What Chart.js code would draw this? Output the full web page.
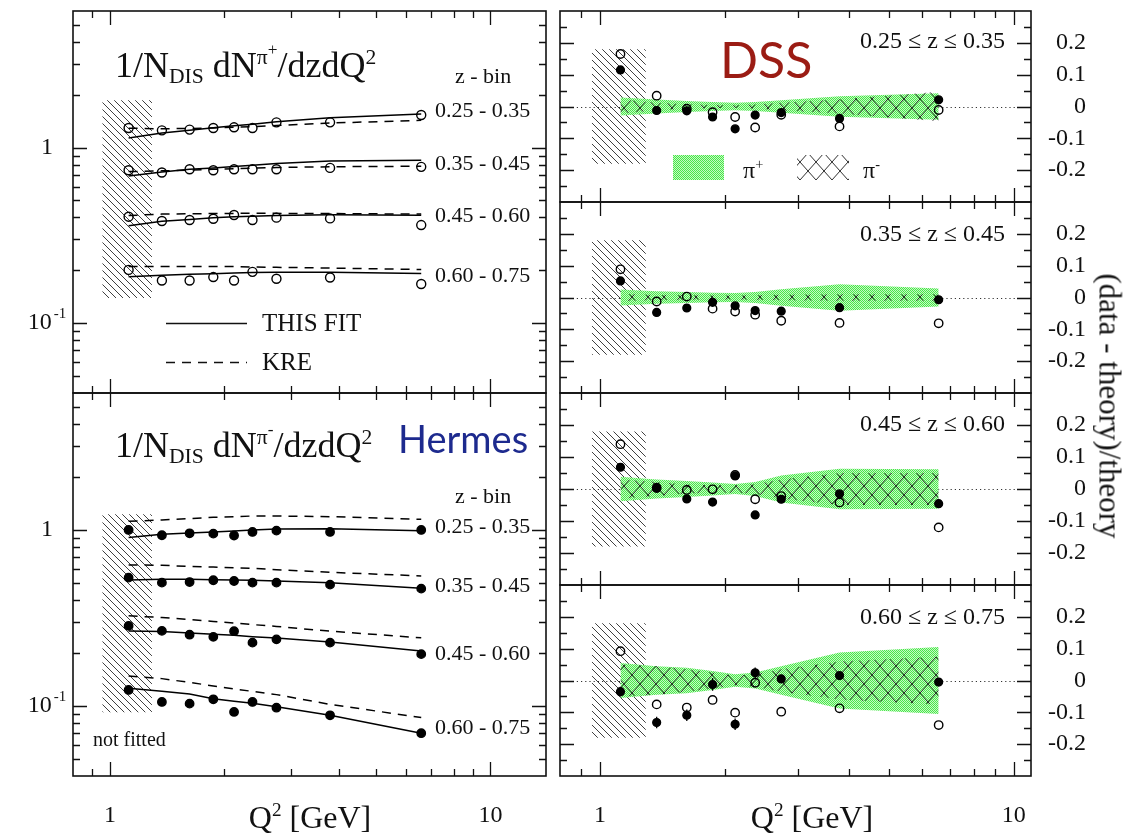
<!DOCTYPE html>
<html>
<head>
<meta charset="utf-8">
<script src="https://cdn.jsdelivr.net/npm/chart.js@4.4.1/dist/chart.umd.min.js"></script>
<style>
html,body{margin:0;padding:0;background:#fff;}
#wrap{position:relative;width:1123px;height:838px;overflow:hidden;font-family:"Liberation Serif",serif;color:#111;}
#wrap canvas{position:absolute;left:0;top:0;}
.t{position:absolute;white-space:nowrap;line-height:1;}
.sub{font-size:0.6em;position:relative;top:0.28em;}
.sup{font-size:0.6em;position:relative;top:-0.62em;}
.sup2{font-size:0.8em;position:relative;top:-0.5em;}
.sans{font-family:Lato,"Open Sans",sans-serif;}
</style>
</head>
<body>
<div id="wrap">
<canvas id="cLT" width="1123" height="838"></canvas>
<canvas id="cLB" width="1123" height="838"></canvas>
<canvas id="cR1" width="1123" height="838"></canvas>
<canvas id="cR2" width="1123" height="838"></canvas>
<canvas id="cR3" width="1123" height="838"></canvas>
<canvas id="cR4" width="1123" height="838"></canvas>

<!-- left top annotations -->
<div class="t" style="left:115px;top:47px;font-size:36px;">1/N<span class="sub">DIS</span> dN<span class="sup">π<span class="sup2">+</span></span>/dzdQ<span class="sup">2</span></div>
<div class="t" style="left:455px;top:65px;font-size:22px;">z - bin</div>
<div class="t" id="zl0" style="left:435px;top:99px;font-size:22px;"></div>
<div class="t" id="zl1" style="left:435px;top:152px;font-size:22px;"></div>
<div class="t" id="zl2" style="left:435px;top:204px;font-size:22px;"></div>
<div class="t" id="zl3" style="left:435px;top:264px;font-size:22px;"></div>
<div class="t" style="left:262px;top:310px;font-size:25px;">THIS FIT</div>
<div class="t" style="left:262px;top:349px;font-size:25px;">KRE</div>

<!-- left bottom annotations -->
<div class="t" style="left:115px;top:427px;font-size:36px;">1/N<span class="sub">DIS</span> dN<span class="sup">π<span class="sup2">-</span></span>/dzdQ<span class="sup">2</span></div>
<div class="t sans" style="left:398px;top:419px;font-size:38px;color:#1d2a8e;">Hermes</div>
<div class="t" style="left:455px;top:485px;font-size:22px;">z - bin</div>
<div class="t" id="zm0" style="left:435px;top:515px;font-size:22px;"></div>
<div class="t" id="zm1" style="left:435px;top:574px;font-size:22px;"></div>
<div class="t" id="zm2" style="left:435px;top:642px;font-size:22px;"></div>
<div class="t" id="zm3" style="left:435px;top:716px;font-size:22px;"></div>
<div class="t" style="left:93px;top:729px;font-size:20px;">not fitted</div>

<!-- right annotations -->
<div class="t sans" style="left:720px;top:34px;font-size:50px;color:#9b1c14;">DSS</div>
<div class="t" id="zr0" style="right:118px;top:28px;font-size:24px;"></div>
<div class="t" id="zr1" style="right:118px;top:221px;font-size:24px;"></div>
<div class="t" id="zr2" style="right:118px;top:411px;font-size:24px;"></div>
<div class="t" id="zr3" style="right:118px;top:604px;font-size:24px;"></div>
<div class="t" style="left:743px;top:158px;font-size:24px;">π<span class="sup">+</span></div>
<div class="t" style="left:863px;top:158px;font-size:24px;">π<span class="sup">-</span></div>
<div class="t" style="left:1110px;top:406px;font-size:31px;transform:translate(-50%,-50%) rotate(90deg);">(data - theory)/theory</div>

<!-- x axis titles -->
<div class="t" style="left:310px;top:801px;font-size:32px;transform:translateX(-50%);">Q<span class="sup">2</span> [GeV]</div>
<div class="t" style="left:812px;top:801px;font-size:32px;transform:translateX(-50%);">Q<span class="sup">2</span> [GeV]</div>
</div>

<script>
// ---------------- DATA ----------------
const Q2 = [1.12, 1.37, 1.62, 1.87, 2.12, 2.37, 2.74, 3.79, 6.58];
const zBinLabels = ['0.25 - 0.35', '0.35 - 0.45', '0.45 - 0.60', '0.60 - 0.75'];
const zRangeLabels = ['0.25 ≤ z ≤ 0.35', '0.35 ≤ z ≤ 0.45', '0.45 ≤ z ≤ 0.60', '0.60 ≤ z ≤ 0.75'];

// pi+ multiplicities (open circles), this fit (solid), KRE (dashed)
const piPlusZ1 = [1.293, 1.254, 1.266, 1.293, 1.305, 1.293, 1.393, 1.393, 1.533];
const piPlusZ2 = [0.743, 0.721, 0.753, 0.743, 0.753, 0.753, 0.753, 0.766, 0.777];
const piPlusZ3 = [0.404, 0.382, 0.387, 0.393, 0.413, 0.387, 0.399, 0.395, 0.362];
const piPlusZ4 = [0.201, 0.175, 0.175, 0.183, 0.175, 0.196, 0.179, 0.182, 0.167];
const fitPlusZ1 = [1.135, 1.211, 1.254, 1.299, 1.334, 1.357, 1.405, 1.480, 1.553];
const fitPlusZ2 = [0.690, 0.727, 0.753, 0.766, 0.780, 0.794, 0.811, 0.840, 0.847];
const fitPlusZ3 = [0.359, 0.380, 0.390, 0.399, 0.404, 0.407, 0.411, 0.414, 0.412];
const fitPlusZ4 = [0.184, 0.1875, 0.190, 0.191, 0.193, 0.194, 0.195, 0.195, 0.192];
const krePlusZ1 = [1.29, 1.28, 1.285, 1.295, 1.305, 1.315, 1.335, 1.38, 1.43];
const krePlusZ2 = [0.73, 0.737, 0.745, 0.752, 0.758, 0.763, 0.77, 0.778, 0.783];
const krePlusZ3 = [0.41, 0.418, 0.42, 0.421, 0.422, 0.422, 0.422, 0.421, 0.418];
const krePlusZ4 = [0.21, 0.21, 0.21, 0.21, 0.21, 0.209, 0.208, 0.206, 0.202];

// pi- multiplicities (filled circles), this fit, KRE
const piMinusZ1 = [1.0, 0.933, 0.957, 0.953, 0.930, 0.974, 0.991, 0.974, 1.0];
const piMinusZ2 = [0.536, 0.502, 0.506, 0.518, 0.513, 0.502, 0.502, 0.489, 0.464];
const piMinusZ3 = [0.285, 0.267, 0.254, 0.247, 0.266, 0.229, 0.239, 0.229, 0.197];
const piMinusZ4 = [0.1233, 0.1054, 0.1031, 0.1091, 0.0925, 0.1054, 0.0978, 0.0885, 0.0700];
const fitMinusZ1 = [0.905, 0.945, 0.961, 0.974, 0.987, 1.0, 1.013, 1.017, 0.991];
const fitMinusZ2 = [0.520, 0.5245, 0.5245, 0.522, 0.520, 0.518, 0.513, 0.502, 0.466];
const fitMinusZ3 = [0.267, 0.2645, 0.260, 0.2554, 0.252, 0.2476, 0.2433, 0.2310, 0.2053];
const fitMinusZ4 = [0.126, 0.1214, 0.117, 0.110, 0.1063, 0.1036, 0.0991, 0.0885, 0.0700];
const kreMinusZ1 = [1.12, 1.14, 1.16, 1.18, 1.19, 1.20, 1.20, 1.19, 1.15];
const kreMinusZ2 = [0.633, 0.63, 0.62, 0.615, 0.61, 0.605, 0.595, 0.575, 0.548];
const kreMinusZ3 = [0.325, 0.318, 0.31, 0.302, 0.296, 0.29, 0.283, 0.266, 0.244];
const kreMinusZ4 = [0.148, 0.143, 0.136, 0.130, 0.125, 0.121, 0.116, 0.102, 0.086];

// (data - theory)/theory, DSS
const resPlusZ1 = [0.165, 0.034, -0.007, -0.018, -0.033, -0.066, -0.026, -0.0625, -0.011];
const resMinusZ1 = [0.115, -0.0125, -0.0135, -0.033, -0.070, -0.027, -0.019, -0.0375, 0.021];
const resPlusZ2 = [0.0885, -0.0125, 0.003, -0.035, -0.044, -0.054, -0.073, -0.080, -0.081];
const resMinusZ2 = [0.052, -0.047, -0.033, -0.015, -0.026, -0.041, -0.043, -0.032, -0.007];
const resPlusZ3 = [0.14, 0.004, -0.003, -0.001, 0.044, -0.032, -0.022, -0.042, -0.12];
const resMinusZ3 = [0.068, 0.002, -0.031, -0.041, 0.041, -0.081, -0.032, -0.015, -0.046];
const resPlusZ4 = [0.092, -0.075, -0.085, -0.061, -0.101, -0.007, -0.098, -0.0875, -0.14];
const resMinusZ4 = [-0.035, -0.132, -0.109, -0.0125, -0.1375, 0.024, 0.005, 0.0156, -0.005];
const resMinusErrZ4 = [0.015, 0.018, 0.018, 0.02, 0.018, 0.017, 0.013, 0.01, 0.01];

// uncertainty bands (half widths): pi+ (green) and pi- (cross-hatched)
const bandPlusZ1 = [0.028, 0.022, 0.017, 0.014, 0.012, 0.014, 0.02, 0.032, 0.042];
const bandMinusZ1 = [0.022, 0.012, 0.007, 0.005, 0.004, 0.006, 0.012, 0.022, 0.046];
const bandPlusZ2 = [0.025, 0.02, 0.017, 0.015, 0.014, 0.017, 0.026, 0.042, 0.028];
const bandMinusZ2 = [0.012, 0.008, 0.007, 0.006, 0.006, 0.007, 0.009, 0.01, 0.01];
const bandPlusZ3 = [0.038, 0.03, 0.025, 0.02, 0.016, 0.022, 0.042, 0.063, 0.062];
const bandMinusZ3 = [0.03, 0.022, 0.014, 0.012, 0.012, 0.015, 0.03, 0.05, 0.05];
const bandPlusZ4 = [0.055, 0.045, 0.04, 0.03, 0.02, 0.025, 0.045, 0.088, 0.105];
const bandMinusZ4 = [0.05, 0.045, 0.035, 0.025, 0.015, 0.02, 0.035, 0.06, 0.075];

// "not fitted" region
const notFittedQ2 = [0.955, 1.29];
const notFittedTopY = [0.139, 1.86];
const notFittedBottomY = [0.092, 1.23];
const notFittedResY = [-0.18, 0.18];

// axes ticks and labels
const xMajorTicks = [1, 10];
const xMinorTicks = [0.9, 2, 3, 4, 5, 6, 7, 8, 9];
const xTickLabels = ['1', '10'];
const logYMajorTicks = [0.1, 1];
const logYMinorTicks = [0.05, 0.06, 0.07, 0.08, 0.09, 0.2, 0.3, 0.4, 0.5, 0.6, 0.7, 0.8, 0.9, 2, 3, 4, 5];
const logYTickLabels = ['10', '1'];
const logYTickSup = ['-1', ''];
const resYMajorTicks = [-0.2, -0.1, 0, 0.1, 0.2];
const resYMinorTicks = [-0.25, -0.15, -0.05, 0.05, 0.15, 0.25];
const resYTickLabels = ['-0.2', '-0.1', '0', '0.1', '0.2'];

// ---------------- TEXT ----------------
zBinLabels.forEach((s, i) => { document.getElementById('zl' + i).textContent = s; document.getElementById('zm' + i).textContent = s; });
zRangeLabels.forEach((s, i) => { document.getElementById('zr' + i).textContent = s; });

// ---------------- DRAWING ----------------
const W = 1123, H = 838;
const SERIF = '"Liberation Serif", serif';

function tile(w, h, draw) { const c = document.createElement('canvas'); c.width = w; c.height = h; draw(c.getContext('2d'), w, h); return c; }
const hatchTile = tile(7, 7, (g, w, h) => { g.strokeStyle = '#2a2a2a'; g.lineWidth = 0.9; g.beginPath(); for (let k = -1; k <= 1; k++) { g.moveTo(k * w, 0); g.lineTo(k * w + w, h); } g.stroke(); });
const crossTile = tile(16, 18, (g, w, h) => { g.strokeStyle = '#1a1a1a'; g.lineWidth = 0.9; g.beginPath(); g.moveTo(0, 0); g.lineTo(w, h); g.moveTo(w, 0); g.lineTo(0, h); g.stroke(); });
const greenTile = tile(2, 2, (g) => { g.fillStyle = '#c4fac4'; g.fillRect(0, 0, 2, 2); g.fillStyle = '#4ae64a'; g.fillRect(0, 0, 1, 1); g.fillRect(1, 1, 1, 1); });
const pat = (id, t) => document.getElementById(id).getContext('2d').createPattern(t, 'repeat');

const framePlugin = {
  id: 'frame',
  beforeDatasetsDraw(chart, args, o) {
    if (!o || !o.zeroLine) return;
    const { ctx, chartArea: a, scales: { y } } = chart;
    const py = Math.round(y.getPixelForValue(0)) + 0.5;
    ctx.save(); ctx.strokeStyle = '#333'; ctx.lineWidth = 1; ctx.setLineDash([1.2, 3]);
    ctx.beginPath(); ctx.moveTo(a.left, py); ctx.lineTo(a.right, py); ctx.stroke(); ctx.restore();
  },
  afterDatasetsDraw(chart, args, o) {
    if (!o) return;
    const { ctx, chartArea: a, scales: { x, y } } = chart;
    ctx.save();
    ctx.strokeStyle = '#111'; ctx.fillStyle = '#111';
    ctx.lineWidth = 1.3;
    ctx.beginPath();
    const xt = (vals, len) => vals.forEach(v => {
      if (v < x.min || v > x.max) return;
      const px = Math.round(x.getPixelForValue(v)) + 0.5;
      ctx.moveTo(px, a.bottom); ctx.lineTo(px, a.bottom - len);
      ctx.moveTo(px, a.top); ctx.lineTo(px, a.top + len);
    });
    const yt = (vals, len) => vals.forEach(v => {
      if (v < y.min || v > y.max) return;
      const py = Math.round(y.getPixelForValue(v)) + 0.5;
      ctx.moveTo(a.left, py); ctx.lineTo(a.left + len, py);
      ctx.moveTo(a.right, py); ctx.lineTo(a.right - len, py);
    });
    xt(xMajorTicks, 14); xt(xMinorTicks, 7);
    yt(o.yMajor, 14); yt(o.yMinor, 7);
    ctx.stroke();
    ctx.lineWidth = 1.6;
    ctx.strokeRect(a.left, a.top, a.right - a.left, a.bottom - a.top);
    // tick labels
    ctx.textBaseline = 'middle';
    if (o.xLabels) {
      ctx.font = '24px ' + SERIF; ctx.textAlign = 'center';
      xMajorTicks.forEach((v, i) => ctx.fillText(xTickLabels[i], x.getPixelForValue(v), a.bottom + 40));
    }
    if (o.logLabels) {
      logYMajorTicks.forEach((v, i) => {
        const py = y.getPixelForValue(v);
        ctx.font = '24px ' + SERIF;
        const w1 = ctx.measureText(logYTickLabels[i]).width;
        ctx.font = '15px ' + SERIF;
        const w2 = logYTickSup[i] ? ctx.measureText(logYTickSup[i]).width + 2 : 0;
        const x0 = a.left - 26 - (w1 + w2) / 2;
        ctx.textAlign = 'left';
        ctx.font = '24px ' + SERIF; ctx.fillText(logYTickLabels[i], x0, py);
        if (w2) { ctx.font = '15px ' + SERIF; ctx.fillText(logYTickSup[i], x0 + w1 + 2, py - 9); }
      });
    }
    if (o.resLabels) {
      ctx.font = '24px ' + SERIF; ctx.textAlign = 'right';
      resYMajorTicks.forEach((v, i) => ctx.fillText(resYTickLabels[i], a.right + 55, y.getPixelForValue(v)));
    }
    // legend samples
    (o.legendLines || []).forEach(l => {
      ctx.lineWidth = 1.5; ctx.setLineDash(l.dash || []);
      ctx.beginPath(); ctx.moveTo(l.x1, l.y + 0.5); ctx.lineTo(l.x2, l.y + 0.5); ctx.stroke();
    });
    ctx.setLineDash([]);
    (o.swatches || []).forEach(s => { ctx.fillStyle = s.fill; ctx.fillRect(s.x, s.y, s.w, s.h); });
    ctx.restore();
  }
};
Chart.register(framePlugin);

const pts = (xs, ys) => xs.map((x, i) => ({ x, y: ys[i] }));
const lineDS = (ys, dash) => ({ data: pts(Q2, ys), showLine: true, pointRadius: 0, borderColor: '#000', borderWidth: 1.5, borderDash: dash || [], fill: false, order: 2 });
const markDS = (ys, filled, r) => ({ data: pts(Q2, ys), showLine: false, pointRadius: r, pointBorderWidth: 1.4, pointBorderColor: '#000', pointBackgroundColor: filled ? '#000' : 'rgba(0,0,0,0)', order: 0 });
const bandDS = (xs, lo, hi, fill, order) => [
  { data: pts(xs, hi), showLine: true, pointRadius: 0, borderWidth: 0, borderColor: 'rgba(0,0,0,0)', backgroundColor: fill, fill: '+1', order },
  { data: pts(xs, lo), showLine: true, pointRadius: 0, borderWidth: 0, borderColor: 'rgba(0,0,0,0)', fill: false, order }
];
const errDS = (ys, es) => ({ data: Q2.flatMap((x, i) => [{ x, y: ys[i] - es[i] }, { x, y: ys[i] + es[i] }, { x, y: null }]), showLine: true, spanGaps: false, pointRadius: 0, borderColor: '#000', borderWidth: 1.3, fill: false, order: 1 });

function panel(id, box, xMax, yType, yMin, yMax, datasets, frame) {
  return new Chart(document.getElementById(id), {
    type: 'scatter',
    data: { datasets },
    options: {
      responsive: false, animation: false, events: [],
      layout: { padding: { left: box.l, top: box.t, right: W - box.r, bottom: H - box.b } },
      scales: {
        x: { type: 'logarithmic', min: 0.8, max: xMax, display: false },
        y: { type: yType, min: yMin, max: yMax, display: false }
      },
      plugins: { legend: { display: false }, tooltip: { enabled: false }, frame }
    }
  });
}

// Left top: pi+
panel('cLT', { l: 73, t: 11, r: 546, b: 393 }, 14, 'logarithmic', 0.04, 6, [
  ...bandDS(notFittedQ2, [notFittedTopY[0], notFittedTopY[0]], [notFittedTopY[1], notFittedTopY[1]], pat('cLT', hatchTile), 5),
  lineDS(fitPlusZ1), lineDS(fitPlusZ2), lineDS(fitPlusZ3), lineDS(fitPlusZ4),
  lineDS(krePlusZ1, [9, 7]), lineDS(krePlusZ2, [9, 7]), lineDS(krePlusZ3, [9, 7]), lineDS(krePlusZ4, [9, 7]),
  markDS(piPlusZ1, false, 4.5), markDS(piPlusZ2, false, 4.5), markDS(piPlusZ3, false, 4.5), markDS(piPlusZ4, false, 4.5)
], { yMajor: logYMajorTicks, yMinor: logYMinorTicks, logLabels: true,
     legendLines: [{ x1: 166, x2: 247, y: 323 }, { x1: 166, x2: 247, y: 362, dash: [9, 7] }] });

// Left bottom: pi-
panel('cLB', { l: 73, t: 393, r: 546, b: 776 }, 14, 'logarithmic', 0.04, 6, [
  ...bandDS(notFittedQ2, [notFittedBottomY[0], notFittedBottomY[0]], [notFittedBottomY[1], notFittedBottomY[1]], pat('cLB', hatchTile), 5),
  lineDS(fitMinusZ1), lineDS(fitMinusZ2), lineDS(fitMinusZ3), lineDS(fitMinusZ4),
  lineDS(kreMinusZ1, [9, 7]), lineDS(kreMinusZ2, [9, 7]), lineDS(kreMinusZ3, [9, 7]), lineDS(kreMinusZ4, [9, 7]),
  markDS(piMinusZ1, true, 4.2), markDS(piMinusZ2, true, 4.2), markDS(piMinusZ3, true, 4.2), markDS(piMinusZ4, true, 4.2)
], { yMajor: logYMajorTicks, yMinor: logYMinorTicks, logLabels: true, xLabels: true });

// Right panels: residuals
const rightBoxes = [
  { l: 560, t: 11, r: 1031, b: 202 },
  { l: 560, t: 202, r: 1031, b: 393 },
  { l: 560, t: 393, r: 1031, b: 585 },
  { l: 560, t: 585, r: 1031, b: 776 }
];
const resPlus = [resPlusZ1, resPlusZ2, resPlusZ3, resPlusZ4];
const resMinus = [resMinusZ1, resMinusZ2, resMinusZ3, resMinusZ4];
const bandPlus = [bandPlusZ1, bandPlusZ2, bandPlusZ3, bandPlusZ4];
const bandMinus = [bandMinusZ1, bandMinusZ2, bandMinusZ3, bandMinusZ4];
['cR1', 'cR2', 'cR3', 'cR4'].forEach((id, k) => {
  const green = pat(id, greenTile), cross = pat(id, crossTile);
  const ds = [
    ...bandDS(notFittedQ2, [notFittedResY[0], notFittedResY[0]], [notFittedResY[1], notFittedResY[1]], pat(id, hatchTile), 6),
    ...bandDS(Q2, bandPlus[k].map(v => -v), bandPlus[k], green, 5),
    ...bandDS(Q2, bandMinus[k].map(v => -v), bandMinus[k], cross, 4),
    markDS(resMinus[k], true, 3.9),
    markDS(resPlus[k], false, 4.2)
  ];
  if (k === 3) ds.push(errDS(resMinusZ4, resMinusErrZ4));
  const frame = { yMajor: resYMajorTicks, yMinor: resYMinorTicks, resLabels: true, zeroLine: true, xLabels: k === 3 };
  if (k === 0) frame.swatches = [{ x: 673, y: 155, w: 51, h: 25, fill: green }, { x: 797, y: 155, w: 52, h: 25, fill: cross }];
  panel(id, rightBoxes[k], 11, 'linear', -0.3, 0.3, ds, frame);
});
</script>
</body>
</html>
